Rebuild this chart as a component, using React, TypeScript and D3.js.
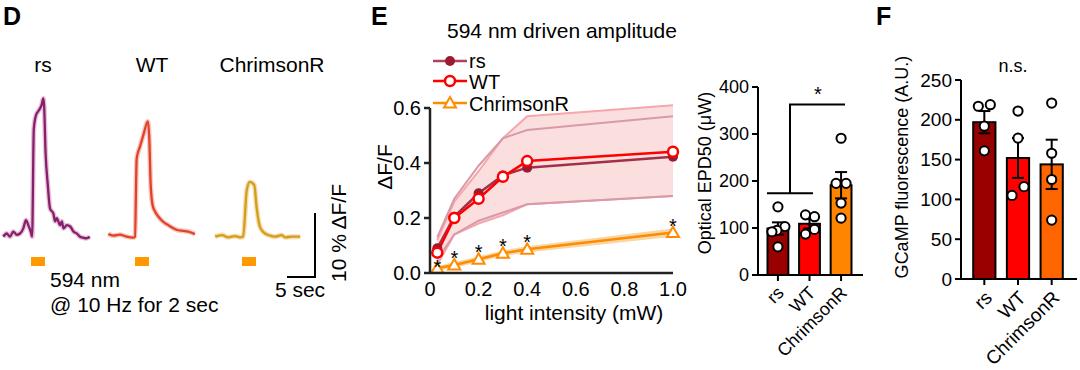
import React from "react";
import * as d3 from "d3";

const FONT = "'Liberation Sans', Arial, Helvetica, sans-serif";

// ---------- Panel D : mean traces (time in s, value in % dF/F) ----------
const traceTimeRs = [0.05, 0.66, 1.25, 1.84, 2.45, 3.04, 3.63, 4.1, 4.52, 4.95, 5.2, 5.5, 5.9, 6.3, 6.9, 7.2, 7.35, 7.6, 8.0, 8.4, 9.0, 9.3, 9.6, 10.2, 10.5, 10.8, 11.4, 12.0, 12.6, 13.2, 13.75, 14.3, 14.9, 15.5];
const traceRs = [0.2, 0.7, 0.2, 1.0, 0.5, 0.7, 1.5, 2.8, 2.0, 1.0, 0.2, 17.0, 19.2, 19.8, 20.8, 21.8, 20.5, 13.4, 8.3, 4.6, 3.8, 2.6, 3.1, 2.0, 2.6, 1.5, 2.0, 1.8, 1.0, 0.7, 0.2, 0.05, -0.05, 0.2];
const traceTimeWt = [0.23, 1.1, 2.3, 3.5, 4.7, 5.0, 5.3, 5.9, 6.5, 7.3, 7.55, 7.8, 8.15, 8.6, 9.2, 10.05, 10.95, 11.85, 12.7, 13.6, 14.5, 15.7];
const traceWt = [0.3, 0.05, 0.2, -0.1, -0.25, -0.1, 12.1, 14.0, 15.8, 17.9, 15.3, 8.0, 4.8, 3.8, 3.0, 2.2, 1.7, 1.2, 0.9, 0.8, 0.7, 0.3];
const traceTimeCh = [0.2, 1.4, 2.55, 3.75, 4.65, 5.2, 5.85, 6.4, 7.2, 7.6, 8.2, 8.8, 9.7, 10.9, 12.1, 12.7, 13.9, 15.4];
const traceCh = [0.05, 0.3, -0.05, 0.15, -0.05, 0.05, 7.3, 8.6, 8.1, 4.7, 1.6, 0.8, 0.3, 0.05, 0.3, -0.05, 0.05, 0.05];
const stimWindow = [5.0, 7.5];
const scaleBarTime = 5; // s
const scaleBarAmp = 10; // %

// ---------- Panel E : amplitude vs intensity ----------
const intensities = [0.03, 0.1, 0.2, 0.3, 0.4, 1.0];
const ampRs = [0.09, 0.205, 0.29, 0.355, 0.383, 0.423];
const ampWt = [0.074, 0.2, 0.27, 0.35, 0.407, 0.441];
const ampCh = [0.017, 0.029, 0.05, 0.072, 0.086, 0.147];
const rsUpper = [0.13, 0.27, 0.39, 0.49, 0.52, 0.57];
const rsLower = [0.05, 0.14, 0.19, 0.22, 0.25, 0.28];
const wtUpper = [0.12, 0.26, 0.37, 0.49, 0.57, 0.61];
const wtLower = [0.03, 0.14, 0.18, 0.21, 0.25, 0.28];
const chUpper = [0.025, 0.04, 0.06, 0.082, 0.097, 0.162];
const chLower = [0.009, 0.018, 0.04, 0.062, 0.075, 0.132];
const chSignificant = [true, true, true, true, true, true];
const ampTicksY = [0, 0.2, 0.4, 0.6];
const ampTicksX = [0, 0.2, 0.4, 0.6, 0.8, 1.0];

// ---------- Panel E : EPD50 bars ----------
const groups = ["rs", "WT", "ChrimsonR"];
const epdMean = [99, 109, 191];
const epdSem = [13, 10, 28];
const epdPoints = [
  [145, 103, 95, 92, 60],
  [128, 124, 97, 87],
  [291, 195, 195, 153, 121],
];
const epdTicks = [0, 100, 200, 300, 400];

// ---------- Panel F : GCaMP fluorescence ----------
const gcampMean = [197, 152, 144];
const gcampSem = [14, 25, 31];
const gcampPoints = [
  [217, 219, 192, 161],
  [211, 177, 105, 116],
  [221, 158, 125, 74],
];
const gcampTicks = [0, 50, 100, 150, 200, 250];

// styling (jitter in px, not data)
const epdJitter = [[0, 7, -1, -6, 0], [-4, 5, 5, -4], [0, -5, 5, 0, 0]];
const gcampJitter = [[-6, 6, 0, 0], [0, 0, -6, 6], [0, 0, 0, 0]];
const barColorsE = ["#9a0000", "#ff0000", "#ff8400"];
const barColorsF = ["#990000", "#ff0000", "#ff6600"];

function Trace({ times, values, x0, y0, color, band }: any) {
  const x = d3.scaleLinear().domain([0, 16]).range([x0, x0 + 16 * 5.6]);
  const y = d3.scaleLinear().domain([0, 10]).range([y0, y0 - 64]);
  const line = d3
    .line<number>()
    .x((_, i) => x(times[i]))
    .y((d) => y(d))
    .curve(d3.curveMonotoneX);
  const p = line(values) || "";
  return (
    <g>
      <path d={p} stroke={band} strokeWidth={5} fill="none" strokeOpacity={0.6} strokeLinejoin="round" />
      <path d={p} stroke={color} strokeWidth={2.3} fill="none" strokeLinejoin="round" />
      <rect x={x(stimWindow[0])} y={257} width={x(stimWindow[1]) - x(stimWindow[0])} height={9} fill="#ff9900" />
    </g>
  );
}

function BarPanel({ means, sems, points, jitter, colors, ticks, yDomain, yRange, xRange, axisX0, axisX1, fontSize, labelShift }: any) {
  const y = d3.scaleLinear().domain(yDomain).range(yRange);
  const x = d3.scaleBand().domain(groups).range(xRange).paddingInner(0.34).paddingOuter(0);
  const bw = x.bandwidth();
  const y0 = y(0);
  return (
    <g>
      {groups.map((g, i) => {
        const cx = (x(g) as number) + bw / 2;
        return (
          <g key={g}>
            <rect x={x(g)} y={y(means[i])} width={bw} height={y0 - y(means[i])} fill={colors[i]} stroke="#000" strokeWidth={2} />
            <line x1={cx} x2={cx} y1={y(means[i] - sems[i])} y2={y(means[i] + sems[i])} stroke="#000" strokeWidth={2} />
            <line x1={cx - 6} x2={cx + 6} y1={y(means[i] + sems[i])} y2={y(means[i] + sems[i])} stroke="#000" strokeWidth={2} />
            <line x1={cx - 6} x2={cx + 6} y1={y(means[i] - sems[i])} y2={y(means[i] - sems[i])} stroke="#000" strokeWidth={2} />
            {points[i].map((v: number, j: number) => (
              <circle key={j} cx={cx + jitter[i][j]} cy={y(v)} r={4.6} fill="#fff" stroke="#000" strokeWidth={2} />
            ))}
            <line x1={cx} x2={cx} y1={y0} y2={y0 + 6} stroke="#000" strokeWidth={2} />
            <text
              transform={`translate(${cx + labelShift[0]},${y0 + labelShift[1]}) rotate(-45)`}
              textAnchor="end"
              fontSize={fontSize}
            >
              {g}
            </text>
          </g>
        );
      })}
      <line x1={axisX0} x2={axisX1} y1={y0} y2={y0} stroke="#000" strokeWidth={2} />
      <line x1={axisX0} x2={axisX0} y1={y0} y2={y(yDomain[1])} stroke="#000" strokeWidth={2} />
      {ticks.map((t: number) => (
        <g key={t}>
          <line x1={axisX0 - 6} x2={axisX0} y1={y(t)} y2={y(t)} stroke="#000" strokeWidth={2} />
          <text x={axisX0 - 9} y={y(t)} textAnchor="end" dominantBaseline="central" fontSize={fontSize}>
            {t}
          </text>
        </g>
      ))}
    </g>
  );
}

export default function App() {
  // Panel E line chart scales
  const xE = d3.scaleLinear().domain([0, 1]).range([430, 673]);
  const yE = d3.scaleLinear().domain([0, 0.6]).range([273, 108]);
  const lineE = (vals: number[]) =>
    d3.line<number>().x((_, i) => xE(intensities[i])).y((d) => yE(d))(vals) || "";
  const areaE = (lo: number[], hi: number[]) =>
    d3
      .area<number>()
      .x((_, i) => xE(intensities[i]))
      .y0((_, i) => yE(lo[i]))
      .y1((d) => yE(d))(hi) || "";
  const tri = d3.symbol().type(d3.symbolTriangle).size(62)() || "";

  const yB = d3.scaleLinear().domain([0, 400]).range([275, 87]);

  return (
    <svg
      width={1080}
      height={370}
      style={{ position: "absolute", left: 0, top: 0, background: "#fff" }}
      fontFamily={FONT}
    >
      <rect width={1080} height={370} fill="#fff" />
      {/* ---------------- Panel D ---------------- */}
      <text x={3} y={25} fontSize={25} fontWeight="bold">D</text>
      <text x={43} y={72} fontSize={21} textAnchor="middle">rs</text>
      <text x={152} y={72} fontSize={21} textAnchor="middle">WT</text>
      <text x={272} y={72} fontSize={21} textAnchor="middle">ChrimsonR</text>
      <Trace times={traceTimeRs} values={traceRs} x0={3} y0={238} color="#86206a" band="#d99ac2" />
      <Trace times={traceTimeWt} values={traceWt} x0={107} y0={236} color="#df4426" band="#f6a2a2" />
      <Trace times={traceTimeCh} values={traceCh} x0={214} y0={237} color="#cfa11a" band="#f7c27c" />
      {(() => {
        const sx = d3.scaleLinear().domain([0, scaleBarTime]).range([0, scaleBarTime * 5.6]);
        const sy = d3.scaleLinear().domain([0, scaleBarAmp]).range([0, 64]);
        const cx = 315, cy = 277;
        return (
          <g>
            <path d={`M${cx - sx(scaleBarTime)},${cy}H${cx}V${cy - sy(scaleBarAmp)}`} fill="none" stroke="#000" strokeWidth={2} />
            <text x={cx - sx(scaleBarTime) / 2 - 1} y={297} fontSize={21} textAnchor="middle">5 sec</text>
            <text transform={`translate(338,233) rotate(-90)`} fontSize={21} textAnchor="middle" dominantBaseline="central">10 % ΔF/F</text>
          </g>
        );
      })()}
      <text x={50} y={287} fontSize={21}>594 nm</text>
      <text x={50} y={312} fontSize={21}>@ 10 Hz for 2 sec</text>

      {/* ---------------- Panel E ---------------- */}
      <text x={371} y={25} fontSize={25} fontWeight="bold">E</text>
      <text x={562} y={38} fontSize={21} textAnchor="middle">594 nm driven amplitude</text>
      {/* bands */}
      <path d={areaE(wtLower, wtUpper)} fill="#f8c4c4" fillOpacity={0.55} />
      <path d={lineE(wtUpper)} fill="none" stroke="#f6a6ad" strokeWidth={2} />
      <path d={lineE(wtLower)} fill="none" stroke="#f6a6ad" strokeWidth={2} />
      <path d={lineE(rsUpper)} fill="none" stroke="#d79aa8" strokeWidth={2} />
      <path d={lineE(rsLower)} fill="none" stroke="#d79aa8" strokeWidth={2} />
      <path d={areaE(chLower, chUpper)} fill="#f7c67e" fillOpacity={0.7} />
      {/* mean lines */}
      <path d={lineE(ampRs)} fill="none" stroke="#a3304a" strokeWidth={2.5} />
      <path d={lineE(ampWt)} fill="none" stroke="#ff0000" strokeWidth={2.5} />
      <path d={lineE(ampCh)} fill="none" stroke="#ff8c00" strokeWidth={2.5} />
      {intensities.map((v, i) => (
        <circle key={"r" + i} cx={xE(v)} cy={yE(ampRs[i])} r={5} fill="#9b1b33" />
      ))}
      {intensities.map((v, i) => (
        <circle key={"w" + i} cx={xE(v)} cy={yE(ampWt[i])} r={5} fill="#fff" stroke="#ff0000" strokeWidth={2.5} />
      ))}
      {intensities.map((v, i) => (
        <path key={"c" + i} d={tri} transform={`translate(${xE(v)},${yE(ampCh[i]) + 1})`} fill="#fff" stroke="#ff8c00" strokeWidth={2} />
      ))}
      {intensities.map((v, i) =>
        chSignificant[i] ? (
          <text key={"s" + i} x={xE(v)} y={yE(ampCh[i]) - (i === 0 ? 6 : 12) + 12} fontSize={20} textAnchor="middle">*</text>
        ) : null
      )}
      {/* axes */}
      <line x1={430} x2={673} y1={273} y2={273} stroke="#222" strokeWidth={2.5} />
      <line x1={430} x2={430} y1={273} y2={108} stroke="#222" strokeWidth={2.5} />
      {ampTicksY.map((t) => (
        <g key={t}>
          <line x1={424} x2={430} y1={yE(t)} y2={yE(t)} stroke="#222" strokeWidth={2.5} />
          <text x={421} y={yE(t)} fontSize={20} textAnchor="end" dominantBaseline="central">{t.toFixed(1)}</text>
        </g>
      ))}
      {ampTicksX.map((t) => (
        <text key={t} x={xE(t)} y={296} fontSize={20} textAnchor="middle">{t === 0 ? "0" : t.toFixed(1)}</text>
      ))}
      <text x={574} y={320} fontSize={21} textAnchor="middle">light intensity (mW)</text>
      <text transform="translate(384,167) rotate(-90)" fontSize={21} textAnchor="middle" dominantBaseline="central">ΔF/F</text>
      {/* legend */}
      <g>
        <line x1={433} x2={467} y1={61} y2={61} stroke="#b04060" strokeWidth={2.5} />
        <circle cx={450} cy={61} r={5} fill="#9b1b33" />
        <text x={469} y={61} fontSize={20} dominantBaseline="central">rs</text>
        <line x1={433} x2={467} y1={81} y2={81} stroke="#ff0000" strokeWidth={2.5} />
        <circle cx={450} cy={81} r={5} fill="#fff" stroke="#ff0000" strokeWidth={2.5} />
        <text x={469} y={82} fontSize={20} dominantBaseline="central">WT</text>
        <line x1={433} x2={467} y1={103} y2={103} stroke="#ff8c00" strokeWidth={2.5} />
        <path d={tri} transform="translate(450,104)" fill="#fff" stroke="#ff8c00" strokeWidth={2} />
        <text x={469} y={104} fontSize={20} dominantBaseline="central">ChrimsonR</text>
      </g>

      {/* EPD50 bars */}
      <BarPanel
        means={epdMean}
        sems={epdSem}
        points={epdPoints}
        jitter={epdJitter}
        colors={barColorsE}
        ticks={epdTicks}
        yDomain={[0, 400]}
        yRange={[275, 87]}
        xRange={[767.5, 851.5]}
        axisX0={758}
        axisX1={863}
        fontSize={18}
        labelShift={[7, 19]}
      />
      <path d={`M${767},${yB(174)}H${813}M${790},${yB(174)}V${yB(363)}H${845}`} fill="none" stroke="#000" strokeWidth={2} />
      <text x={818} y={yB(363) - 3} fontSize={20} textAnchor="middle">*</text>
      <text transform="translate(705,173) rotate(-90)" fontSize={18} textAnchor="middle" dominantBaseline="central">Optical EPD50 (μW)</text>

      {/* ---------------- Panel F ---------------- */}
      <text x={876} y={25} fontSize={25} fontWeight="bold">F</text>
      <BarPanel
        means={gcampMean}
        sems={gcampSem}
        points={gcampPoints}
        jitter={gcampJitter}
        colors={barColorsF}
        ticks={gcampTicks}
        yDomain={[0, 250]}
        yRange={[279, 80]}
        xRange={[973.2, 1062.8]}
        axisX0={961}
        axisX1={1077}
        fontSize={19}
        labelShift={[9, 20]}
      />
      <text x={1013} y={72} fontSize={18} textAnchor="middle">n.s.</text>
      <text transform="translate(902,167) rotate(-90)" fontSize={18} textAnchor="middle" dominantBaseline="central">GCaMP fluorescence (A.U.)</text>
    </svg>
  );
}
